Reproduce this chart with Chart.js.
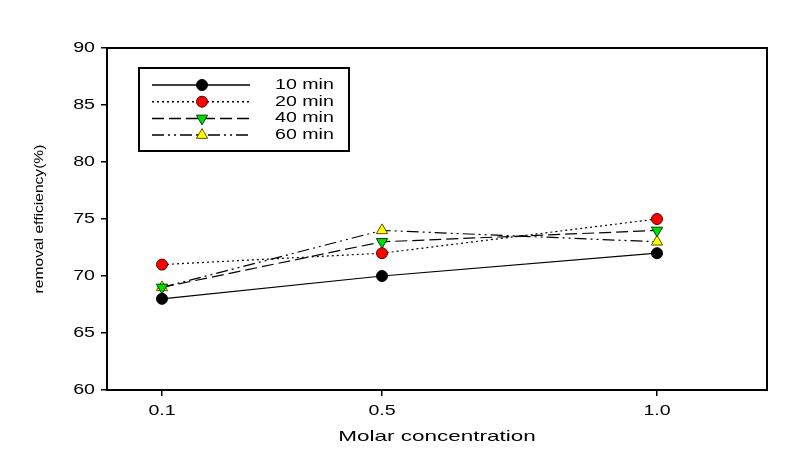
<!DOCTYPE html>
<html>
<head>
<meta charset="utf-8">
<script src="https://cdn.jsdelivr.net/npm/chart.js@4/dist/chart.umd.min.js"></script>
<style>
html,body{margin:0;padding:0;background:#fff;}
#wrap{width:796px;height:458px;}
</style>
</head>
<body>
<div id="wrap"><canvas id="c" width="796" height="458"></canvas></div>
<script>
const concentrations = [0.1, 0.5, 1.0];
const xTickLabels = ['0.1', '0.5', '1.0'];
const yTicks = [60, 65, 70, 75, 80, 85, 90];
const seriesNames = ['10 min', '20 min', '40 min', '60 min'];
const s10 = [68, 70, 72];
const s20 = [71, 72, 75];
const s40 = [69, 73, 74];
const s60 = [69, 74, 73];
const xTitle = 'Molar concentration';
const yTitle = 'removal efficiency(%)';

const FONT = 'Liberation Sans, Arial, sans-serif';

function pts(vals){ return concentrations.map((x,i)=>({x:x,y:vals[i]})); }

const canvas = document.getElementById('c');
const ctx0 = canvas.getContext('2d');
// Text in the reference is horizontally stretched; widen glyphs around their anchor.
const origFill = CanvasRenderingContext2D.prototype.fillText;
ctx0.fillText = function(t, x, y, mw){
  let s = 1.4;
  if (t === xTitle) s = 1.5;
  else if (t === yTitle) s = 1.2;
  this.save();
  this.translate(x, y);
  this.scale(s, 1);
  origFill.call(this, t, 0, 0);
  this.restore();
};

const styles = [
  {dash:[], fill:'#000000', stroke:'#000000', point:'circle', rot:0, r:5.5},
  {dash:[2,3], fill:'#ff0000', stroke:'#550000', point:'circle', rot:0, r:5.5},
  {dash:[12,5], fill:'#00dd00', stroke:'#004400', point:'triangle', rot:180, r:6.5},
  {dash:[12,4,2,4,2,4], fill:'#ffff00', stroke:'#555500', point:'triangle', rot:0, r:6.5}
];
const allSeries = [s10, s20, s40, s60];

const datasets = allSeries.map((s,i)=>({
  label: seriesNames[i],
  data: pts(s),
  borderColor: '#000',
  borderWidth: 1.2,
  borderDash: styles[i].dash,
  pointStyle: styles[i].point,
  pointRotation: styles[i].rot,
  pointRadius: styles[i].r,
  pointBackgroundColor: styles[i].fill,
  pointBorderColor: styles[i].stroke,
  pointBorderWidth: 1,
  fill: false,
  tension: 0
}));

const framePlugin = {
  id:'frame',
  afterDraw(chart){
    const {ctx, chartArea:a} = chart;
    ctx.save();
    ctx.strokeStyle='#000';
    ctx.lineWidth=2;
    ctx.strokeRect(a.left, a.top, a.right-a.left, a.bottom-a.top);
    // legend
    const bx=139, by=68, bw=210, bh=83;
    ctx.lineWidth=2;
    ctx.strokeRect(bx, by, bw, bh);
    chart.data.datasets.forEach((ds,i)=>{
      const y = by + 17 + i*16.7;
      ctx.beginPath();
      ctx.setLineDash(ds.borderDash);
      ctx.lineWidth=1.5;
      ctx.moveTo(152,y); ctx.lineTo(250,y);
      ctx.strokeStyle='#000';
      ctx.stroke();
      ctx.setLineDash([]);
      ctx.fillStyle=ds.pointBackgroundColor;
      ctx.strokeStyle=ds.pointBorderColor;
      ctx.lineWidth=1;
      Chart.helpers.drawPoint(ctx, {pointStyle:ds.pointStyle, rotation:ds.pointRotation, radius:ds.pointRadius, borderWidth:1}, 202, y);
      ctx.fillStyle='#000';
      ctx.font='14px '+FONT;
      ctx.textBaseline='middle';
      ctx.textAlign='left';
      ctx.fillText(ds.label, 275, y);
    });
    ctx.restore();
  }
};

new Chart(canvas, {
  type:'line',
  data:{datasets},
  options:{
    responsive:false,
    animation:false,
    layout:{padding:{left:0, top:48, right:29, bottom:0}},
    plugins:{legend:{display:false}, tooltip:{enabled:false}},
    scales:{
      x:{
        type:'linear', min:0, max:1.2,
        afterBuildTicks(scale){ scale.ticks = concentrations.map(v=>({value:v})); },
        afterFit(scale){ scale.height = 68; },
        ticks:{ callback:(v,i)=>xTickLabels[i], color:'#000', font:{family:FONT,size:14}, padding:7, maxRotation:0 },
        grid:{ drawOnChartArea:false, drawTicks:true, tickLength:6, color:'#000', lineWidth:1.5 },
        border:{ display:true, color:'#000', width:2 },
        title:{ display:true, text:xTitle, color:'#000', font:{family:FONT,size:15}, padding:{top:8, bottom:12} }
      },
      y:{
        type:'linear', min:60, max:90,
        afterBuildTicks(scale){ scale.ticks = yTicks.map(v=>({value:v})); },
        afterFit(scale){ scale.width = 107; },
        ticks:{ color:'#000', font:{family:FONT,size:14}, padding:6 },
        grid:{ drawOnChartArea:false, drawTicks:true, tickLength:6, color:'#000', lineWidth:1.5 },
        border:{ display:true, color:'#000', width:2 },
        title:{ display:true, text:yTitle, color:'#000', font:{family:FONT,size:13}, padding:{top:32, bottom:0} }
      }
    }
  },
  plugins:[framePlugin]
});
</script>
</body>
</html>
